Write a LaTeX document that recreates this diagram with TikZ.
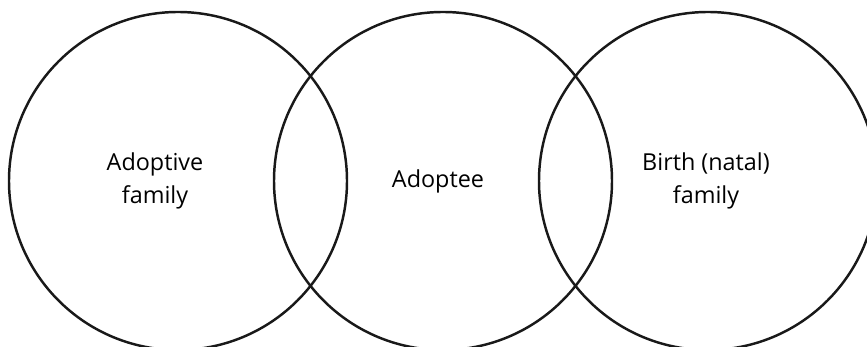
\documentclass[tikz,border=0pt]{standalone}
\usepackage{fontspec}
\setmainfont{Open Sans}
\usepackage{tikz}
\usetikzlibrary{positioning}
\tikzset{
  setcircle/.style={draw=black!90,line width=1.4pt,circle,inner sep=0pt,minimum size=6.76cm},
  setlabel/.style={align=center,inner sep=0pt,font=\fontsize{13.3}{18.8}\selectfont}
}
\begin{document}
\begin{tikzpicture}
\useasboundingbox (0,0) rectangle (17.34,6.94);
\clip (0,0) rectangle (17.34,6.94);
\node[setcircle] (adoptive) at (3.56,3.32) {};
\node[setcircle] (adoptee) at (8.86,3.32) {};
\node[setcircle] (birth) at (14.16,3.32) {};
\node[setlabel] (adoptivetxt) at (3.10,3.32) {Adoptive\\family};
\node[setlabel] (adopteetxt) at (8.76,3.32) {Adoptee};
\node[setlabel] (birthtxt) at (14.12,3.32) {Birth (natal)\\family};
\end{tikzpicture}
\end{document}
